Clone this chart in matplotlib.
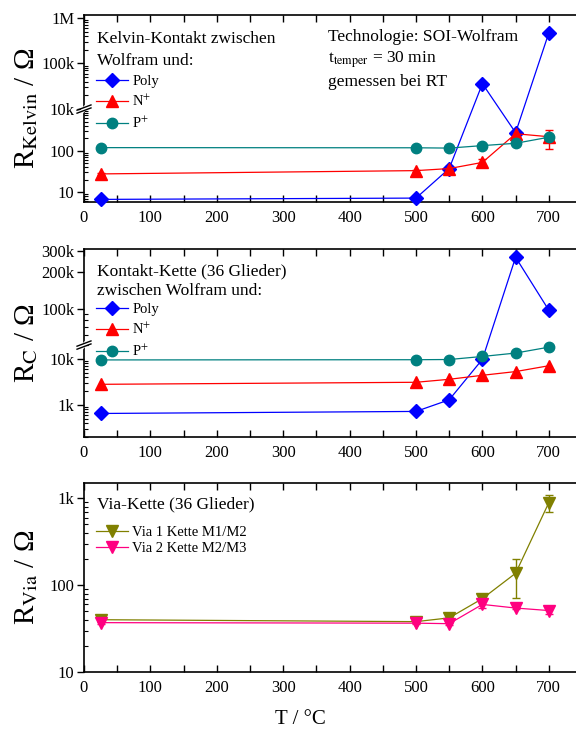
import numpy as np
import matplotlib
matplotlib.use("Agg")
import matplotlib.pyplot as plt
from matplotlib.ticker import FixedLocator, FixedFormatter, NullFormatter

plt.rcParams["font.family"] = ["Liberation Serif", "DejaVu Serif"]
plt.rcParams["mathtext.fontset"] = "stix"

T = [25, 500, 550, 600, 650, 700]

# Kelvin contacts
kel_poly = [6.7, 7.2, 37, 36000, 270, 465000]
kel_n = [27.5, 33, 37, 52, 255, 216]
kel_n_err = [1, 2, 5, 10, 25, 105]
kel_p = [118, 117, 115, 132, 150, 210]

# contact chains
rc_poly = [650, 720, 1290, 9800, 265000, 97000]
rc_n = [2800, 3100, 3600, 4400, 5300, 7100]
rc_p = [9500, 9600, 9700, 11300, 13400, 18000]

# via chains
via1 = [40, 38, 42, 70, 137, 890]
via1_err = [1, 1, 2, 5, 65, 200]
via2 = [37, 36.5, 36, 60, 54.5, 51]
via2_err = [1, 1, 1, 6, 2, 5]

C_POLY, C_N, C_P = "#0000ff", "#ff0000", "#008080"
C_V1, C_V2 = "#808000", "#ff0080"


def broken_log(lo, hi, split):
    """Log axis with the range between lo[1] and hi[0] cut out."""
    la, lb = np.log10(lo)
    lc, ld = np.log10(hi)
    s_lo = split / (lb - la)
    s_hi = (1 - split) / (ld - lc)
    eps = 1e-6

    def fwd(v):
        L = np.log10(np.clip(np.asarray(v, float), 1e-12, None))
        gap = split + (L - lb) / (lc - lb) * eps
        return np.where(L <= lb, (L - la) * s_lo,
                        np.where(L >= lc, split + eps + (L - lc) * s_hi, gap))

    def inv(p):
        p = np.asarray(p, float)
        L = np.where(p <= split, la + p / s_lo,
                     np.where(p >= split + eps, lc + (p - split - eps) / s_hi,
                              lb + (p - split) / eps * (lc - lb)))
        return 10 ** L

    return fwd, inv


def minors(decades, lo, hi):
    out = []
    for d in decades:
        for m in range(2, 10):
            v = m * 10.0 ** d
            if lo <= v <= hi:
                out.append(v)
    return out


def style(ax):
    ax.set_xlim(0, 750)
    ax.set_xticks(range(0, 800, 100))
    ax.set_xticks(range(50, 800, 100), minor=True)
    ax.tick_params(axis="x", which="both", direction="in", top=True,
                   length=5, width=1, labelsize=12, pad=6)
    ax.tick_params(axis="y", which="major", direction="out", length=5,
                   width=1, labelsize=12, pad=2)
    ax.tick_params(axis="y", which="minor", direction="in", length=3,
                   width=0.8)
    for s in ax.spines.values():
        s.set_linewidth(1.2)
    ax.spines["right"].set_visible(False)


def break_marks(ax, pos):
    ax.plot([-0.004, 0.004], [pos - 0.012, pos + 0.012], color="white",
            lw=3, transform=ax.transAxes, clip_on=False, zorder=5)
    for dy in (-0.008, 0.008):
        ax.plot([-0.014, 0.014], [pos + dy - 0.014, pos + dy + 0.014],
                color="black", lw=1, transform=ax.transAxes, clip_on=False,
                zorder=6)


def series(ax, y, color, marker, label, err=None, ms=8):
    if err is not None:
        ax.errorbar(T, y, yerr=err, fmt="none", ecolor=color, capsize=3,
                    elinewidth=1, capthick=1, clip_on=False, zorder=2)
    ax.plot(T, y, color=color, marker=marker, ms=ms, lw=0.9, label=label,
            clip_on=False, zorder=3)


def add_legend(ax, y, spacing):
    ax.legend(loc="upper left", bbox_to_anchor=(0.024, y), frameon=False,
              fontsize=10.5, handlelength=2.2, handletextpad=0.3,
              labelspacing=spacing, borderaxespad=0, borderpad=0)


fig = plt.figure(figsize=(5.76, 7.29), dpi=100)
L, W = 84 / 576, 498 / 576
ax1 = fig.add_axes([L, 1 - 202 / 729, W, 187 / 729])
ax2 = fig.add_axes([L, 1 - 437 / 729, W, 188 / 729])
ax3 = fig.add_axes([L, 1 - 672 / 729, W, 189 / 729])

# panel 1: Kelvin contact
f1 = broken_log((5.8, 1000), (1e4, 1.15e6), 0.497)
ax1.set_yscale("function", functions=f1)
series(ax1, kel_poly, C_POLY, "D", "Poly", ms=7)
series(ax1, kel_n, C_N, "^", "N$^{+}$", err=kel_n_err)
series(ax1, kel_p, C_P, "o", "P$^{+}$", ms=7.5)
ax1.set_ylim(5.8, 1.15e6)
ax1.yaxis.set_major_locator(FixedLocator([10, 100, 1e4, 1e5, 1e6]))
ax1.yaxis.set_major_formatter(FixedFormatter(["10", "100", "10k", "100k", "1M"]))
ax1.yaxis.set_minor_locator(FixedLocator(
    minors([0, 1, 2], 5.8, 1000) + minors([4, 5], 1e4, 1.15e6)))
ax1.yaxis.set_minor_formatter(NullFormatter())
style(ax1)
break_marks(ax1, 0.497)
ax1.set_ylabel(r"R$_{\mathrm{Kelvin}}$ / Ω", fontsize=21)
ax1.text(0.026, 0.915, "Kelvin-Kontakt zwischen\nWolfram und:",
         transform=ax1.transAxes, fontsize=12.5, va="top", linespacing=1.55)
ax1.text(0.49, 0.925,
         "Technologie: SOI-Wolfram\nt$_{\\mathrm{temper}}$ = 30 min\ngemessen bei RT",
         transform=ax1.transAxes, fontsize=12.5, va="top", linespacing=1.35)
add_legend(ax1, 0.68, 0.42)

# panel 2: contact chain
f2 = broken_log((200, 2e4), (5e4, 3.1e5), 0.489)
ax2.set_yscale("function", functions=f2)
series(ax2, rc_poly, C_POLY, "D", "Poly", ms=7)
series(ax2, rc_n, C_N, "^", "N$^{+}$")
series(ax2, rc_p, C_P, "o", "P$^{+}$", ms=7.5)
ax2.set_ylim(200, 3.1e5)
ax2.yaxis.set_major_locator(FixedLocator([1e3, 1e4, 1e5, 2e5, 3e5]))
ax2.yaxis.set_major_formatter(FixedFormatter(["1k", "10k", "100k", "200k", "300k"]))
ax2.yaxis.set_minor_locator(FixedLocator(
    minors([2, 3, 4], 200, 2e4) + minors([4], 5e4, 1e5)))
ax2.yaxis.set_minor_formatter(NullFormatter())
style(ax2)
break_marks(ax2, 0.489)
ax2.set_ylabel(r"R$_{\mathrm{C}}$ / Ω", fontsize=21)
ax2.text(0.026, 0.925, "Kontakt-Kette (36 Glieder)\nzwischen Wolfram und:",
         transform=ax2.transAxes, fontsize=12.5, va="top", linespacing=1.3)
add_legend(ax2, 0.714, 0.42)

# panel 3: via chain
ax3.set_yscale("log")
series(ax3, via1, C_V1, "v", "Via 1 Kette M1/M2", err=via1_err)
series(ax3, via2, C_V2, "v", "Via 2 Kette M2/M3", err=via2_err)
ax3.set_ylim(10, 1500)
ax3.yaxis.set_major_locator(FixedLocator([10, 100, 1000]))
ax3.yaxis.set_major_formatter(FixedFormatter(["10", "100", "1k"]))
ax3.yaxis.set_minor_locator(FixedLocator(minors([1, 2], 10, 1500)))
ax3.yaxis.set_minor_formatter(NullFormatter())
style(ax3)
ax3.set_ylabel(r"R$_{\mathrm{Via}}$ / Ω", fontsize=21)
ax3.set_xlabel("T / °C", fontsize=15)
ax3.xaxis.set_label_coords(0.434, -0.2)
ax3.text(0.026, 0.93, "Via-Kette (36 Glieder)", transform=ax3.transAxes,
         fontsize=12.5, va="top")
add_legend(ax3, 0.775, 0.2)

for ax in (ax1, ax2, ax3):
    ax.yaxis.set_label_coords(-0.088, 0.5)

fig.savefig("out.png", dpi=100)
